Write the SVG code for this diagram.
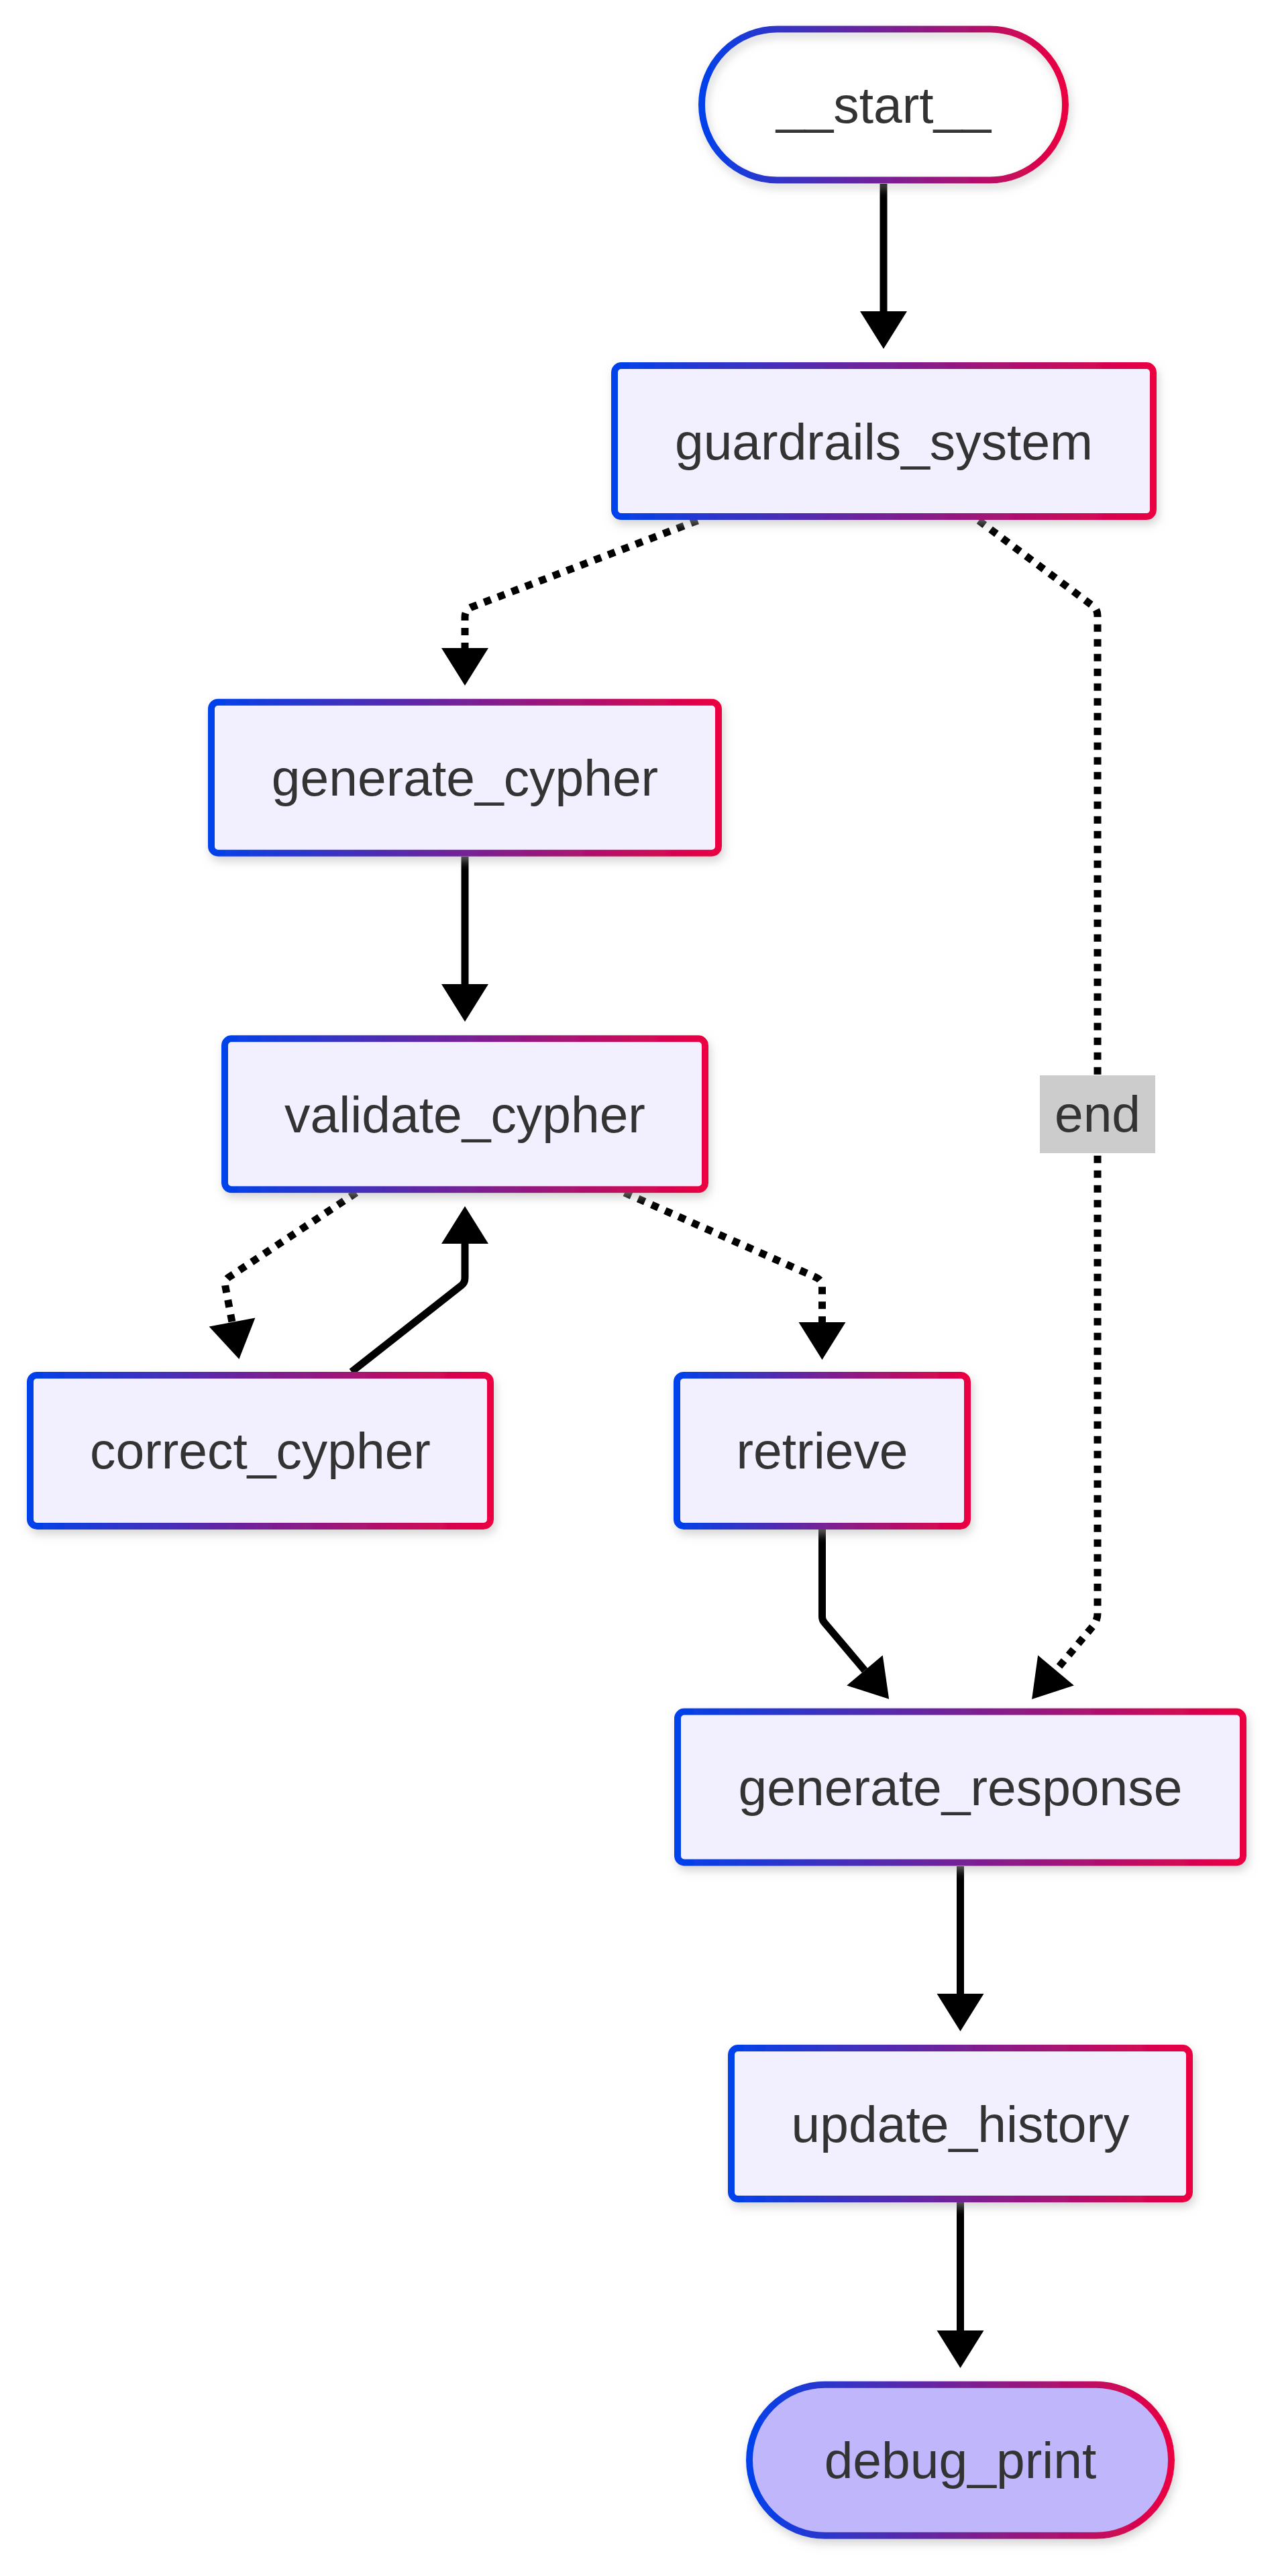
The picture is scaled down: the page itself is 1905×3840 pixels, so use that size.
<svg xmlns="http://www.w3.org/2000/svg" width="1905" height="3840" viewBox="0 0 1905 3840">
<defs>
<linearGradient id="grad" x1="0" y1="0" x2="1" y2="0">
<stop offset="0" stop-color="#0042eb"/>
<stop offset="1" stop-color="#eb0042"/>
</linearGradient>
<filter id="shadow" x="-10%" y="-20%" width="120%" height="150%">
<feDropShadow dx="3" dy="7" stdDeviation="7" flood-color="#b0b0b0" flood-opacity="0.55"/>
</filter>
<marker id="arrow" markerUnits="userSpaceOnUse" markerWidth="56" markerHeight="70" viewBox="0 0 56 70" refX="0" refY="35" orient="auto" overflow="visible">
<path d="M0,0 L56,35 L0,70 Z" fill="#000"/>
</marker>
</defs>
<style>
.node{fill:#f2f0ff;stroke:url(#grad);stroke-width:10;filter:url(#shadow)}
.start{fill:none}
.last{fill:#bfb6fc}
.label{font-family:"Liberation Sans",Arial,sans-serif;font-size:76.8px;fill:#333333;text-anchor:middle}
.edge{fill:none;stroke:#000;stroke-width:11;marker-end:url(#arrow)}
.dotted{stroke-dasharray:11 11}
.edgeLabelBg{fill:#cccccc}
</style>
<rect width="1905" height="3840" fill="#ffffff"/>
<g id="edges">
<path class="edge" d="M1317,274 L1317,464"/>
<path class="edge dotted" d="M1040,776 L703,905 Q693,909 693,920 L693,966"/>
<path class="edge dotted" d="M1459,776 L1630,904 Q1636,909 1636,918 L1636,2405 Q1636,2415 1630,2423 L1574,2490"/>
<path class="edge" d="M693,1277 L693,1467"/>
<path class="edge dotted" d="M531,1778 L341,1904 Q334,1909 336,1918 L346,1971"/>
<path class="edge" d="M524,2045 L688,1916 Q693,1912 693,1905 L693,1854"/>
<path class="edge dotted" d="M931,1778 L1216,1904 Q1225.5,1908 1225.5,1918 L1225.5,1971"/>
<path class="edge" d="M1225.5,2280 L1225.5,2410 Q1225.5,2415 1229,2419 L1289,2490"/>
<path class="edge" d="M1431.5,2782 L1431.5,2972"/>
<path class="edge" d="M1431.5,3283 L1431.5,3474"/>
</g>
<g id="edge-label-end">
<rect class="edgeLabelBg" x="1550" y="1603" width="172" height="116"/>
<text class="label" x="1636" y="1687">end</text>
</g>
<g id="node-start">
<rect class="node start" x="1046" y="43.5" width="542" height="225" rx="112.5" ry="112.5"/>
<text class="label" x="1317" y="183">__start__</text>
</g>
<g id="node-guardrails_system">
<rect class="node" x="916" y="545.1" width="803" height="225" rx="10" ry="10"/>
<text class="label" x="1317.5" y="684.6">guardrails_system</text>
</g>
<g id="node-generate_cypher">
<rect class="node" x="315" y="1046.7" width="756" height="225" rx="10" ry="10"/>
<text class="label" x="693" y="1186.2">generate_cypher</text>
</g>
<g id="node-validate_cypher">
<rect class="node" x="335" y="1548.3" width="716" height="225" rx="10" ry="10"/>
<text class="label" x="693" y="1687.8">validate_cypher</text>
</g>
<g id="node-correct_cypher">
<rect class="node" x="45" y="2049.9" width="686" height="225" rx="10" ry="10"/>
<text class="label" x="388" y="2189.4">correct_cypher</text>
</g>
<g id="node-retrieve">
<rect class="node" x="1009" y="2049.9" width="433" height="225" rx="10" ry="10"/>
<text class="label" x="1225.5" y="2189.4">retrieve</text>
</g>
<g id="node-generate_response">
<rect class="node" x="1010" y="2551.5" width="843" height="225" rx="10" ry="10"/>
<text class="label" x="1431.5" y="2691">generate_response</text>
</g>
<g id="node-update_history">
<rect class="node" x="1090" y="3053.1" width="683" height="225" rx="10" ry="10"/>
<text class="label" x="1431.5" y="3192.6">update_history</text>
</g>
<g id="node-debug_print">
<rect class="node last" x="1117" y="3554.7" width="629" height="225" rx="112.5" ry="112.5"/>
<text class="label" x="1431.5" y="3694.2">debug_print</text>
</g>
</svg>
